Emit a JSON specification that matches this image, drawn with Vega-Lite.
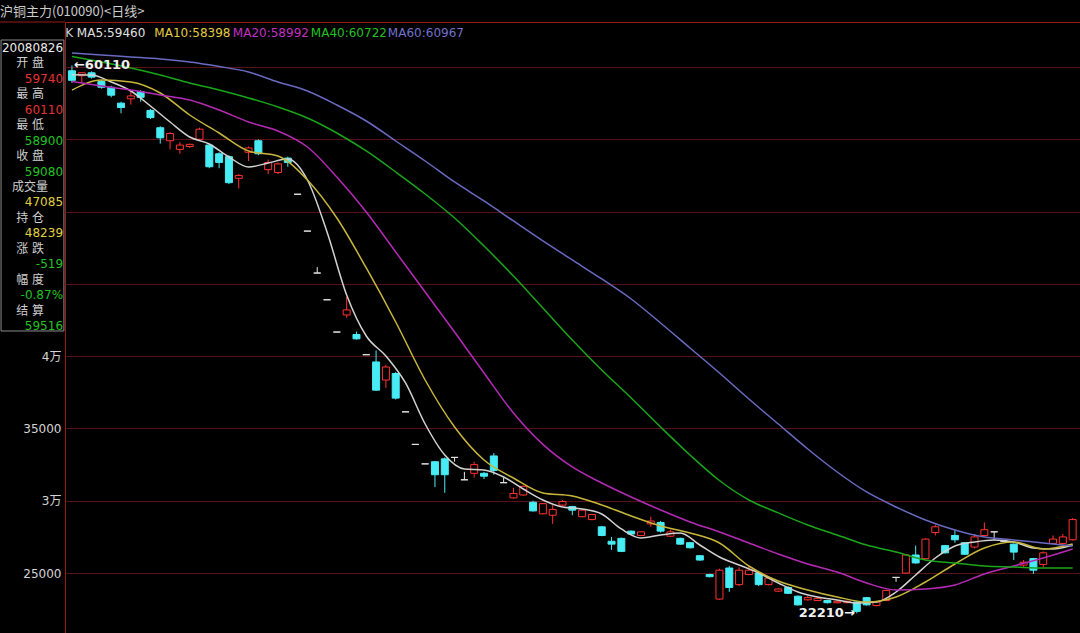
{
"$schema": "https://vega.github.io/schema/vega-lite/v6.json",
"width": 1015, "height": 611,
"autosize": {"type": "none"},
"padding": {"left": 65, "top": 22, "right": 0, "bottom": 0},
"background": "#000000",
"config": {"view": {"stroke": "#9a1a1a", "strokeWidth": 1}, "font": "DejaVu Sans"},
"title": {"text": "沪铜主力(010090)<日线>", "anchor": "start", "frame": "group", "dx": -65, "offset": -10, "baseline": "bottom", "fontSize": 13, "fontWeight": "normal", "color": "#cccccc", "font": "Noto Sans CJK SC"},
"datasets": {
"k": [
{"i":0,"o":59740,"h":60110,"l":58900,"c":59080},
{"i":1,"o":59400,"h":59650,"l":58900,"c":59600},
{"i":2,"o":59600,"h":59700,"l":59200,"c":59300},
{"i":3,"o":59000,"h":59100,"l":58500,"c":58600},
{"i":4,"o":58600,"h":58700,"l":57900,"c":58050},
{"i":5,"o":57500,"h":57600,"l":56800,"c":57200},
{"i":6,"o":57800,"h":58300,"l":57400,"c":58000},
{"i":7,"o":58300,"h":58400,"l":57600,"c":57900},
{"i":8,"o":57000,"h":57100,"l":56400,"c":56500},
{"i":9,"o":55800,"h":55900,"l":54700,"c":55100},
{"i":10,"o":54900,"h":55500,"l":54300,"c":55400},
{"i":11,"o":54300,"h":54800,"l":54000,"c":54600},
{"i":12,"o":54500,"h":54700,"l":54400,"c":54650},
{"i":13,"o":55000,"h":55800,"l":54900,"c":55700},
{"i":14,"o":54600,"h":54700,"l":53000,"c":53100},
{"i":15,"o":54000,"h":54100,"l":53000,"c":53400},
{"i":16,"o":53800,"h":53900,"l":51900,"c":52000},
{"i":17,"o":52300,"h":52600,"l":51600,"c":52500},
{"i":18,"o":54100,"h":54500,"l":53500,"c":54400},
{"i":19,"o":54900,"h":55000,"l":53900,"c":54000},
{"i":20,"o":52900,"h":53600,"l":52600,"c":53400},
{"i":21,"o":52700,"h":53400,"l":52600,"c":53300},
{"i":22,"o":53700,"h":53800,"l":53100,"c":53400},
{"i":23,"o":51200,"h":51200,"l":51200,"c":51200},
{"i":24,"o":48650,"h":48650,"l":48650,"c":48650},
{"i":25,"o":45750,"h":46160,"l":45750,"c":45750},
{"i":26,"o":43900,"h":43900,"l":43900,"c":43900},
{"i":27,"o":41670,"h":41670,"l":41670,"c":41670},
{"i":28,"o":42850,"h":44100,"l":42650,"c":43200},
{"i":29,"o":41500,"h":41700,"l":41150,"c":41200},
{"i":30,"o":40100,"h":40100,"l":40100,"c":40100},
{"i":31,"o":39600,"h":40400,"l":37600,"c":37650},
{"i":32,"o":38350,"h":39400,"l":37800,"c":39250},
{"i":33,"o":38800,"h":38900,"l":37000,"c":37100},
{"i":34,"o":36150,"h":36150,"l":36150,"c":36150},
{"i":35,"o":33900,"h":33900,"l":33900,"c":33900},
{"i":36,"o":32550,"h":32550,"l":32550,"c":32550},
{"i":37,"o":32700,"h":32750,"l":30950,"c":31800},
{"i":38,"o":32900,"h":33000,"l":30550,"c":31800},
{"i":39,"o":33000,"h":33000,"l":32700,"c":33000},
{"i":40,"o":31450,"h":32000,"l":31450,"c":31450},
{"i":41,"o":31900,"h":32700,"l":31600,"c":32500},
{"i":42,"o":31900,"h":32000,"l":31500,"c":31700},
{"i":43,"o":33100,"h":33300,"l":31800,"c":32100},
{"i":44,"o":31250,"h":31600,"l":31250,"c":31250},
{"i":45,"o":30200,"h":30900,"l":30150,"c":30500},
{"i":46,"o":30400,"h":31050,"l":30350,"c":31000},
{"i":47,"o":29900,"h":30000,"l":29250,"c":29300},
{"i":48,"o":29100,"h":29850,"l":29050,"c":29800},
{"i":49,"o":29000,"h":29700,"l":28400,"c":29400},
{"i":50,"o":29700,"h":30050,"l":29650,"c":29950},
{"i":51,"o":29600,"h":29650,"l":29000,"c":29350},
{"i":52,"o":28900,"h":29400,"l":28850,"c":29350},
{"i":53,"o":28700,"h":29100,"l":28650,"c":29050},
{"i":54,"o":28200,"h":28250,"l":27550,"c":27600},
{"i":55,"o":27200,"h":27500,"l":26600,"c":27000},
{"i":56,"o":27400,"h":27450,"l":26450,"c":26500},
{"i":57,"o":27900,"h":27950,"l":27650,"c":27700},
{"i":58,"o":27600,"h":27900,"l":27550,"c":27850},
{"i":59,"o":28400,"h":28900,"l":28200,"c":28600},
{"i":60,"o":28500,"h":28600,"l":27800,"c":27900},
{"i":61,"o":27550,"h":28000,"l":27500,"c":27850},
{"i":62,"o":27400,"h":27450,"l":26950,"c":27000},
{"i":63,"o":27100,"h":27150,"l":26700,"c":26750},
{"i":64,"o":26200,"h":26250,"l":25850,"c":25900},
{"i":65,"o":24900,"h":24950,"l":24700,"c":24750},
{"i":66,"o":23200,"h":25300,"l":23150,"c":25200},
{"i":67,"o":25350,"h":25500,"l":23700,"c":24000},
{"i":68,"o":24200,"h":25400,"l":24100,"c":25200},
{"i":69,"o":24900,"h":25500,"l":24850,"c":25200},
{"i":70,"o":25000,"h":25050,"l":24100,"c":24200},
{"i":71,"o":24200,"h":24700,"l":24150,"c":24650},
{"i":72,"o":23750,"h":23950,"l":23700,"c":23900},
{"i":73,"o":24000,"h":24100,"l":23550,"c":23600},
{"i":74,"o":23400,"h":23450,"l":22750,"c":22800},
{"i":75,"o":23150,"h":23400,"l":23100,"c":23300},
{"i":76,"o":23100,"h":23350,"l":23050,"c":23250},
{"i":77,"o":23100,"h":23150,"l":22900,"c":22950},
{"i":78,"o":22950,"h":23100,"l":22900,"c":23050},
{"i":79,"o":22950,"h":23100,"l":22900,"c":23050},
{"i":80,"o":23000,"h":23050,"l":22210,"c":22350},
{"i":81,"o":23300,"h":23350,"l":22750,"c":22800},
{"i":82,"o":22750,"h":23050,"l":22700,"c":23000},
{"i":83,"o":23100,"h":23850,"l":23050,"c":23800},
{"i":84,"o":24700,"h":24700,"l":24400,"c":24700},
{"i":85,"o":25000,"h":26300,"l":24950,"c":26250},
{"i":86,"o":26250,"h":26900,"l":25650,"c":25700},
{"i":87,"o":26000,"h":27400,"l":25950,"c":27350},
{"i":88,"o":27800,"h":28350,"l":27600,"c":28200},
{"i":89,"o":26900,"h":26950,"l":26350,"c":26400},
{"i":90,"o":27600,"h":28000,"l":27100,"c":27300},
{"i":91,"o":27100,"h":27150,"l":26250,"c":26300},
{"i":92,"o":26800,"h":27700,"l":26700,"c":27500},
{"i":93,"o":27600,"h":28500,"l":27550,"c":28000},
{"i":94,"o":27850,"h":27850,"l":27300,"c":27850},
{"i":95,"o":27200,"h":27200,"l":27200,"c":27200},
{"i":96,"o":27000,"h":27050,"l":25900,"c":26450},
{"i":97,"o":25550,"h":25900,"l":25400,"c":25750},
{"i":98,"o":26000,"h":26050,"l":24950,"c":25200},
{"i":99,"o":25600,"h":26500,"l":25400,"c":26400},
{"i":100,"o":27050,"h":27600,"l":27000,"c":27350},
{"i":101,"o":27050,"h":27700,"l":27000,"c":27500},
{"i":102,"o":27300,"h":28800,"l":27250,"c":28700}
],
"ma": [
{"s":"MA5","i":0,"v":59460},{"s":"MA5","i":2,"v":59447},{"s":"MA5","i":4,"v":58963},{"s":"MA5","i":6,"v":58340},{"s":"MA5","i":8,"v":57303},{"s":"MA5","i":10,"v":56196},{"s":"MA5","i":12,"v":55159},{"s":"MA5","i":14,"v":54675},{"s":"MA5","i":16,"v":53776},{"s":"MA5","i":18,"v":53084},{"s":"MA5","i":20,"v":53361},{"s":"MA5","i":22,"v":53637},{"s":"MA5","i":24,"v":52185},{"s":"MA5","i":26,"v":48588},{"s":"MA5","i":28,"v":44231},{"s":"MA5","i":30,"v":41396},{"s":"MA5","i":32,"v":40013},{"s":"MA5","i":34,"v":38146},{"s":"MA5","i":36,"v":35310},{"s":"MA5","i":38,"v":33166},{"s":"MA5","i":40,"v":32198},{"s":"MA5","i":42,"v":32128},{"s":"MA5","i":44,"v":31644},{"s":"MA5","i":46,"v":30815},{"s":"MA5","i":48,"v":30055},{"s":"MA5","i":50,"v":29570},{"s":"MA5","i":52,"v":29432},{"s":"MA5","i":54,"v":29086},{"s":"MA5","i":56,"v":28049},{"s":"MA5","i":58,"v":27427},{"s":"MA5","i":60,"v":27634},{"s":"MA5","i":62,"v":27772},{"s":"MA5","i":64,"v":26942},{"s":"MA5","i":66,"v":26111},{"s":"MA5","i":68,"v":25558},{"s":"MA5","i":70,"v":25004},{"s":"MA5","i":72,"v":24313},{"s":"MA5","i":74,"v":23691},{"s":"MA5","i":76,"v":23345},{"s":"MA5","i":78,"v":23138},{"s":"MA5","i":80,"v":22931},{"s":"MA5","i":82,"v":22999},{"s":"MA5","i":84,"v":23691},{"s":"MA5","i":86,"v":24866},{"s":"MA5","i":88,"v":26042},{"s":"MA5","i":90,"v":26873},{"s":"MA5","i":92,"v":27150},{"s":"MA5","i":94,"v":27289},{"s":"MA5","i":96,"v":27150},{"s":"MA5","i":98,"v":26734},{"s":"MA5","i":100,"v":26665},{"s":"MA5","i":102,"v":26942},
{"s":"MA10","i":0,"v":58398},{"s":"MA10","i":3,"v":59101},{"s":"MA10","i":6,"v":58963},{"s":"MA10","i":9,"v":58202},{"s":"MA10","i":12,"v":56680},{"s":"MA10","i":15,"v":55435},{"s":"MA10","i":18,"v":54191},{"s":"MA10","i":21,"v":53845},{"s":"MA10","i":24,"v":52185},{"s":"MA10","i":27,"v":49557},{"s":"MA10","i":30,"v":46099},{"s":"MA10","i":33,"v":42364},{"s":"MA10","i":36,"v":38353},{"s":"MA10","i":39,"v":35102},{"s":"MA10","i":42,"v":32820},{"s":"MA10","i":45,"v":31575},{"s":"MA10","i":48,"v":30538},{"s":"MA10","i":51,"v":30331},{"s":"MA10","i":54,"v":29709},{"s":"MA10","i":57,"v":28948},{"s":"MA10","i":60,"v":28256},{"s":"MA10","i":63,"v":27772},{"s":"MA10","i":66,"v":27081},{"s":"MA10","i":69,"v":25489},{"s":"MA10","i":72,"v":24451},{"s":"MA10","i":75,"v":23829},{"s":"MA10","i":78,"v":23345},{"s":"MA10","i":81,"v":22999},{"s":"MA10","i":84,"v":23345},{"s":"MA10","i":87,"v":24382},{"s":"MA10","i":90,"v":25628},{"s":"MA10","i":93,"v":26734},{"s":"MA10","i":96,"v":27150},{"s":"MA10","i":99,"v":26665},{"s":"MA10","i":102,"v":27012},
{"s":"MA20","i":0,"v":58992},{"s":"MA20","i":3,"v":58686},{"s":"MA20","i":6,"v":58409},{"s":"MA20","i":9,"v":58064},{"s":"MA20","i":12,"v":57718},{"s":"MA20","i":15,"v":57026},{"s":"MA20","i":18,"v":56196},{"s":"MA20","i":21,"v":55574},{"s":"MA20","i":24,"v":54467},{"s":"MA20","i":27,"v":52392},{"s":"MA20","i":30,"v":49972},{"s":"MA20","i":33,"v":47206},{"s":"MA20","i":36,"v":44439},{"s":"MA20","i":39,"v":41673},{"s":"MA20","i":42,"v":38837},{"s":"MA20","i":45,"v":36071},{"s":"MA20","i":48,"v":33900},{"s":"MA20","i":51,"v":32336},{"s":"MA20","i":54,"v":31229},{"s":"MA20","i":57,"v":30262},{"s":"MA20","i":60,"v":29363},{"s":"MA20","i":63,"v":28533},{"s":"MA20","i":66,"v":27842},{"s":"MA20","i":69,"v":27081},{"s":"MA20","i":72,"v":26319},{"s":"MA20","i":75,"v":25628},{"s":"MA20","i":78,"v":25074},{"s":"MA20","i":81,"v":24313},{"s":"MA20","i":84,"v":23829},{"s":"MA20","i":87,"v":23898},{"s":"MA20","i":90,"v":24175},{"s":"MA20","i":93,"v":24935},{"s":"MA20","i":96,"v":25489},{"s":"MA20","i":99,"v":26042},{"s":"MA20","i":102,"v":26665},
{"s":"MA40","i":0,"v":60722},{"s":"MA40","i":3,"v":60346},{"s":"MA40","i":6,"v":59931},{"s":"MA40","i":9,"v":59447},{"s":"MA40","i":12,"v":58893},{"s":"MA40","i":15,"v":58409},{"s":"MA40","i":18,"v":57857},{"s":"MA40","i":21,"v":57234},{"s":"MA40","i":24,"v":56473},{"s":"MA40","i":27,"v":55435},{"s":"MA40","i":30,"v":54191},{"s":"MA40","i":33,"v":52738},{"s":"MA40","i":36,"v":51217},{"s":"MA40","i":39,"v":49557},{"s":"MA40","i":42,"v":47620},{"s":"MA40","i":45,"v":45545},{"s":"MA40","i":48,"v":43333},{"s":"MA40","i":51,"v":41119},{"s":"MA40","i":54,"v":39044},{"s":"MA40","i":57,"v":37108},{"s":"MA40","i":60,"v":35102},{"s":"MA40","i":63,"v":33166},{"s":"MA40","i":66,"v":31400},{"s":"MA40","i":69,"v":30055},{"s":"MA40","i":72,"v":29160},{"s":"MA40","i":75,"v":28325},{"s":"MA40","i":78,"v":27634},{"s":"MA40","i":81,"v":26942},{"s":"MA40","i":84,"v":26458},{"s":"MA40","i":87,"v":25904},{"s":"MA40","i":90,"v":25696},{"s":"MA40","i":93,"v":25489},{"s":"MA40","i":96,"v":25420},{"s":"MA40","i":99,"v":25350},{"s":"MA40","i":102,"v":25350},
{"s":"MA60","i":0,"v":60967},{"s":"MA60","i":3,"v":60830},{"s":"MA60","i":6,"v":60692},{"s":"MA60","i":9,"v":60553},{"s":"MA60","i":12,"v":60346},{"s":"MA60","i":15,"v":60035},{"s":"MA60","i":18,"v":59654},{"s":"MA60","i":21,"v":58963},{"s":"MA60","i":24,"v":58340},{"s":"MA60","i":27,"v":57372},{"s":"MA60","i":30,"v":56265},{"s":"MA60","i":33,"v":54882},{"s":"MA60","i":36,"v":53499},{"s":"MA60","i":39,"v":52047},{"s":"MA60","i":42,"v":50733},{"s":"MA60","i":45,"v":49350},{"s":"MA60","i":48,"v":47967},{"s":"MA60","i":51,"v":46653},{"s":"MA60","i":54,"v":45339},{"s":"MA60","i":57,"v":43955},{"s":"MA60","i":60,"v":42295},{"s":"MA60","i":63,"v":40566},{"s":"MA60","i":66,"v":38837},{"s":"MA60","i":69,"v":37039},{"s":"MA60","i":72,"v":35310},{"s":"MA60","i":75,"v":33581},{"s":"MA60","i":78,"v":31990},{"s":"MA60","i":81,"v":30608},{"s":"MA60","i":84,"v":29570},{"s":"MA60","i":87,"v":28671},{"s":"MA60","i":90,"v":27980},{"s":"MA60","i":93,"v":27496},{"s":"MA60","i":96,"v":27289},{"s":"MA60","i":99,"v":27081},{"s":"MA60","i":102,"v":26873}
],
"panel": [
{"t":"20080826","kind":"date"},{"t":"开 盘","kind":"name"},{"t":"59740","kind":"up"},{"t":"最 高","kind":"name"},{"t":"60110","kind":"up"},{"t":"最 低","kind":"name"},{"t":"58900","kind":"down"},{"t":"收 盘","kind":"name"},{"t":"59080","kind":"down"},{"t":"成交量","kind":"name"},{"t":"47085","kind":"vol"},{"t":"持 仓","kind":"name"},{"t":"48239","kind":"vol"},{"t":"涨 跌","kind":"name"},{"t":"-519","kind":"down"},{"t":"幅 度","kind":"name"},{"t":"-0.87%","kind":"down"},{"t":"结 算","kind":"name"},{"t":"59516","kind":"down"}
],
"hi": [{"i":0,"v":60110,"t":"←60110"}],
"lo": [{"i":80,"v":22210,"t":"22210→"}]
},
"layer": [
{
"layer": [
{
"data": {"values": [{}]},
"mark": {"type": "rect", "fill": "#000000", "stroke": "#8c8c8c", "strokeWidth": 1},
"encoding": {
"x": {"datum": -7.23, "type": "quantitative", "scale": {"domain": [-0.71, 102.75], "nice": false, "zero": false, "padding": 0}, "axis": null},
"x2": {"datum": -0.82},
"y": {"datum": 61867, "type": "quantitative", "scale": {"domain": [20855, 63112], "nice": false, "zero": false, "padding": 0},
"axis": {"values": [25000, 30000, 35000, 40000, 45000, 50000, 55000, 60000],
"labelExpr": "datum.value == 40000 ? '4万' : datum.value == 30000 ? '3万' : datum.value == 35000 ? '35000' : datum.value == 25000 ? '25000' : ''",
"grid": true, "gridColor": "#5a1115", "gridWidth": 1, "ticks": false, "domain": false,
"labelColor": "#d4d4d4", "labelFontSize": 12, "labelFont": "DejaVu Sans, Noto Sans CJK SC", "labelPadding": 4, "title": null}},
"y2": {"datum": 41742}
}
},
{
"data": {"values": [{}]},
"mark": {"type": "rule", "color": "#9a1a1a", "strokeWidth": 1},
"encoding": {"x": {"datum": -7.4, "type": "quantitative"}, "x2": {"datum": -0.71}, "y": {"datum": 63112, "type": "quantitative"}}
},
{
"data": {"name": "k"},
"mark": {"type": "rule", "strokeWidth": 1},
"encoding": {
"x": {"field": "i", "type": "quantitative"},
"y": {"field": "l", "type": "quantitative"},
"y2": {"field": "h"},
"color": {"condition": [{"test": "datum.c > datum.o", "value": "#ff3232"}, {"test": "datum.c < datum.o", "value": "#48ecf4"}], "value": "#e6e6e6"}
}
},
{
"data": {"name": "k"},
"mark": {"type": "bar", "width": 7, "strokeWidth": 1, "orient": "vertical"},
"encoding": {
"x": {"field": "i", "type": "quantitative"},
"y": {"field": "o", "type": "quantitative"},
"y2": {"field": "c"},
"fill": {"condition": [{"test": "datum.c > datum.o", "value": "#000000"}, {"test": "datum.c < datum.o", "value": "#48ecf4"}], "value": "#e6e6e6"},
"stroke": {"condition": [{"test": "datum.c > datum.o", "value": "#ff3232"}, {"test": "datum.c < datum.o", "value": "#48ecf4"}], "value": "#e6e6e6"}
}
},
{
"data": {"name": "ma"},
"mark": {"type": "line", "interpolate": "monotone", "strokeWidth": 1.5},
"encoding": {
"x": {"field": "i", "type": "quantitative"},
"y": {"field": "v", "type": "quantitative"},
"color": {"field": "s", "type": "nominal", "scale": {"domain": ["MA5", "MA10", "MA20", "MA40", "MA60"], "range": ["#d2d2d2", "#c8b63a", "#b52ab5", "#1aa61a", "#6a6ac2"]}, "legend": null}
}
},
{
"data": {"values": [{}]},
"mark": {"type": "text", "text": "K", "align": "left", "baseline": "middle", "fontSize": 12, "color": "#d0d0d0"},
"encoding": {"x": {"datum": -0.68, "type": "quantitative"}, "y": {"datum": 62350, "type": "quantitative"}}
},
{
"data": {"values": [{}]},
"mark": {"type": "text", "text": "MA5:59460", "align": "left", "baseline": "middle", "fontSize": 12, "color": "#e0e0e0"},
"encoding": {"x": {"datum": 0.5, "type": "quantitative"}, "y": {"datum": 62350, "type": "quantitative"}}
},
{
"data": {"values": [{}]},
"mark": {"type": "text", "text": "MA10:58398", "align": "left", "baseline": "middle", "fontSize": 12, "color": "#e2cc40"},
"encoding": {"x": {"datum": 8.4, "type": "quantitative"}, "y": {"datum": 62350, "type": "quantitative"}}
},
{
"data": {"values": [{}]},
"mark": {"type": "text", "text": "MA20:58992", "align": "left", "baseline": "middle", "fontSize": 12, "color": "#c232c2"},
"encoding": {"x": {"datum": 16.4, "type": "quantitative"}, "y": {"datum": 62350, "type": "quantitative"}}
},
{
"data": {"values": [{}]},
"mark": {"type": "text", "text": "MA40:60722", "align": "left", "baseline": "middle", "fontSize": 12, "color": "#22c222"},
"encoding": {"x": {"datum": 24.35, "type": "quantitative"}, "y": {"datum": 62350, "type": "quantitative"}}
},
{
"data": {"values": [{}]},
"mark": {"type": "text", "text": "MA60:60967", "align": "left", "baseline": "middle", "fontSize": 12, "color": "#7272cc"},
"encoding": {"x": {"datum": 32.2, "type": "quantitative"}, "y": {"datum": 62350, "type": "quantitative"}}
},
{
"data": {"name": "hi"},
"mark": {"type": "text", "align": "left", "baseline": "middle", "dx": 2, "fontSize": 13, "fontWeight": "bold", "color": "#f0f0f0"},
"encoding": {"x": {"field": "i", "type": "quantitative"}, "y": {"field": "v", "type": "quantitative"}, "text": {"field": "t"}}
},
{
"data": {"name": "lo"},
"mark": {"type": "text", "align": "right", "baseline": "middle", "dx": -2, "fontSize": 13, "fontWeight": "bold", "color": "#f0f0f0"},
"encoding": {"x": {"field": "i", "type": "quantitative"}, "y": {"field": "v", "type": "quantitative"}, "text": {"field": "t"}}
}
]
},
{
"data": {"name": "panel"},
"mark": {"type": "text", "baseline": "middle", "fontSize": 12, "font": "DejaVu Sans, Noto Sans CJK SC",
"align": {"expr": "datum.kind == 'name' ? 'center' : 'right'"},
"dx": {"expr": "datum.kind == 'name' ? -33 : 0"}},
"encoding": {
"x": {"datum": -0.91, "type": "quantitative"},
"y": {"field": "t", "type": "ordinal", "sort": null, "scale": {"type": "point", "range": [26, 304], "padding": 0}, "axis": null},
"text": {"field": "t"},
"color": {"field": "kind", "type": "nominal", "scale": {"domain": ["date", "name", "up", "down", "vol"], "range": ["#ececec", "#cfcfcf", "#e63232", "#22c222", "#e0d040"]}, "legend": null}
}
}
],
"resolve": {"scale": {"y": "independent", "color": "independent"}}
}
